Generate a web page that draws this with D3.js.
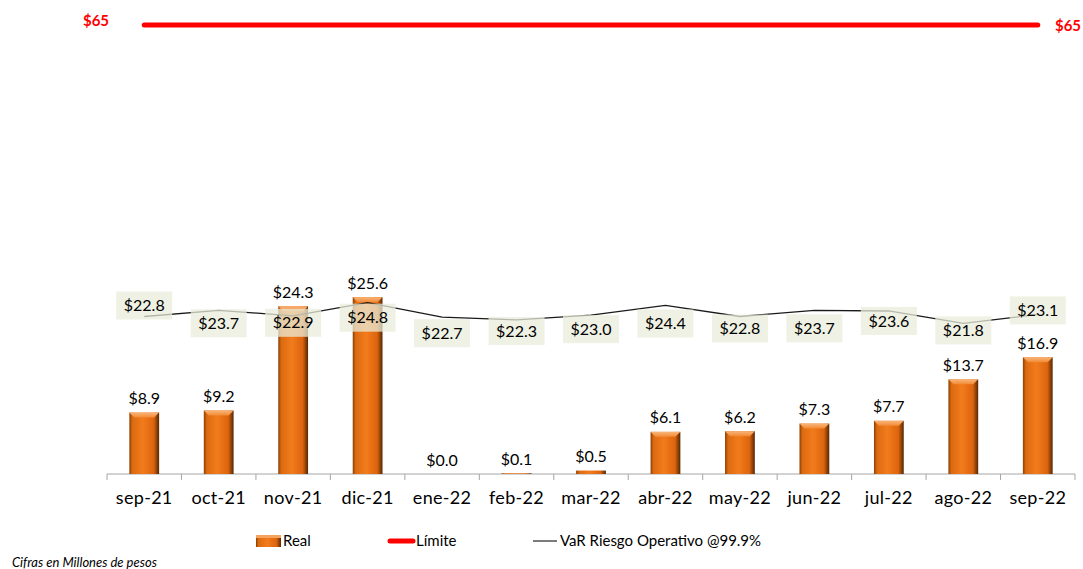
<!DOCTYPE html>
<html>
<head>
<meta charset="utf-8">
<script src="https://cdn.jsdelivr.net/npm/d3@7"></script>
<style>
  body { margin: 0; background: #fff; }
  svg { display: block; font-family: Lato, "Open Sans", sans-serif; }
</style>
</head>
<body>
<svg id="chart" width="1083" height="569"></svg>
<script>
// data (millones de pesos)
const MONTHS = ['sep-21', 'oct-21', 'nov-21', 'dic-21', 'ene-22', 'feb-22', 'mar-22',
    'abr-22', 'may-22', 'jun-22', 'jul-22', 'ago-22', 'sep-22'];
const REAL = [8.9, 9.2, 24.3, 25.6, 0.0, 0.1, 0.5, 6.1, 6.2, 7.3, 7.7, 13.7, 16.9];
const VAR_OP = [22.8, 23.7, 22.9, 24.8, 22.7, 22.3, 23.0, 24.4, 22.8, 23.7, 23.6, 21.8, 23.1];
const LIMITE = 65;

// manual label nudges for the VaR labels (px, relative to the line)
const VAR_LABEL_DY = [-11, 13, 7, 15, 16, 11, 14, 18, 12, 18, 10, 7, -4];

const SVG = d3.select('#chart');
const LEFT = 107, RIGHT = 1075, BASE = 474, TOP = 25;

const x = d3.scaleBand()
    .domain(MONTHS)
    .range([LEFT, RIGHT])
    .paddingInner(0.6)
    .paddingOuter(0.3);
const y = d3.scaleLinear()
    .domain([0, LIMITE])
    .range([BASE, TOP]);
const cx = m => x(m) + x.bandwidth() / 2;

// gradients for the bevelled bars
const defs = SVG.append('defs');
const barGrad = defs.append('linearGradient').attr('id', 'barGrad')
    .attr('x1', 0).attr('x2', 1).attr('y1', 0).attr('y2', 0);
[['0%', '#8a4004'], ['10%', '#dc6a10'], ['45%', '#f27c1c'], ['82%', '#dc640e'], ['100%', '#552702']]
    .forEach(s => barGrad.append('stop').attr('offset', s[0]).attr('stop-color', s[1]));
const capGrad = defs.append('linearGradient').attr('id', 'capGrad')
    .attr('x1', 0).attr('x2', 0).attr('y1', 0).attr('y2', 1);
[['0%', '#f8b57a'], ['100%', '#f28a34']]
    .forEach(s => capGrad.append('stop').attr('offset', s[0]).attr('stop-color', s[1]));

// x axis: line, boundary ticks and labels
SVG.append('line')
    .attr('x1', LEFT).attr('x2', RIGHT)
    .attr('y1', BASE).attr('y2', BASE)
    .style('stroke', '#a6a6a6');
SVG.append('g')
    .selectAll('line')
    .data(d3.range(MONTHS.length + 1))
    .join('line')
    .attr('x1', i => LEFT + i * x.step())
    .attr('x2', i => LEFT + i * x.step())
    .attr('y1', BASE).attr('y2', BASE + 6)
    .style('stroke', '#a6a6a6');

const xAxis = SVG.append('g')
    .attr('transform', `translate(0,${BASE})`)
    .call(d3.axisBottom(x).tickSize(0).tickPadding(17));
xAxis.select('.domain').remove();
xAxis.selectAll('text')
    .style('font-family', 'Lato, sans-serif')
    .style('font-size', '18px')
    .style('letter-spacing', '0.3px')
    .style('fill', '#000');

// bars
const bars = SVG.append('g').attr('id', 'bars');
bars.selectAll('rect')
    .data(REAL)
    .join('rect')
    .attr('x', (d, i) => x(MONTHS[i]))
    .attr('y', d => y(d))
    .attr('width', x.bandwidth())
    .attr('height', d => BASE - y(d))
    .style('fill', 'url(#barGrad)');
bars.selectAll('path')
    .data(REAL.map((d, i) => ({ v: d, m: MONTHS[i] })).filter(d => BASE - y(d.v) > 8))
    .join('path')
    .attr('d', d => {
        const x0 = x(d.m), x1 = x0 + x.bandwidth(), t = y(d.v), b = 5;
        return `M${x0},${t}L${x1},${t}L${x1 - b},${t + b}L${x0 + b},${t + b}Z`;
    })
    .style('fill', 'url(#capGrad)');

// bar value labels
SVG.append('g')
    .selectAll('text')
    .data(REAL)
    .join('text')
    .attr('x', (d, i) => cx(MONTHS[i]))
    .attr('y', d => y(d) - 14)
    .attr('dy', '0.35em')
    .attr('text-anchor', 'middle')
    .style('font-size', '16px')
    .style('fill', '#000')
    .text(d => '$' + d3.format('.1f')(d));

// limit line
SVG.append('line')
    .attr('x1', cx(MONTHS[0]))
    .attr('x2', cx(MONTHS[MONTHS.length - 1]))
    .attr('y1', y(LIMITE)).attr('y2', y(LIMITE))
    .style('stroke', '#ff0000')
    .style('stroke-width', 5)
    .style('stroke-linecap', 'round');
SVG.append('text')
    .attr('x', 96).attr('y', y(LIMITE) - 4)
    .attr('dy', '0.35em')
    .attr('text-anchor', 'middle')
    .style('font-size', '15px').style('font-weight', 'bold').style('fill', '#ff0000')
    .text('$' + LIMITE);
SVG.append('text')
    .attr('x', 1068).attr('y', y(LIMITE) + 1)
    .attr('dy', '0.35em')
    .attr('text-anchor', 'middle')
    .style('font-size', '15px').style('font-weight', 'bold').style('fill', '#ff0000')
    .text('$' + LIMITE);

// VaR line
SVG.append('path')
    .datum(VAR_OP)
    .attr('d', d3.line()
        .x((d, i) => cx(MONTHS[i]))
        .y(d => y(d)))
    .style('fill', 'none')
    .style('stroke', '#1a1a1a')
    .style('stroke-width', 1.3);

// VaR labels with translucent boxes
const varLabels = SVG.append('g')
    .selectAll('g')
    .data(VAR_OP)
    .join('g')
    .attr('transform', (d, i) => `translate(${cx(MONTHS[i])},${y(d) + VAR_LABEL_DY[i]})`);
varLabels.append('rect')
    .attr('x', -28).attr('y', -14)
    .attr('width', 56).attr('height', 28)
    .style('fill', '#e8ecda')
    .style('fill-opacity', 0.75);
varLabels.append('text')
    .attr('text-anchor', 'middle')
    .attr('dy', '0.35em')
    .style('font-size', '16px')
    .style('fill', '#000')
    .text(d => '$' + d3.format('.1f')(d));

// legend
const legend = SVG.append('g').attr('transform', 'translate(0,541)');
legend.append('rect')
    .attr('x', 256).attr('y', -6).attr('width', 25).attr('height', 12)
    .style('fill', 'url(#barGrad)');
legend.append('rect')
    .attr('x', 256).attr('y', -6).attr('width', 25).attr('height', 3)
    .style('fill', '#f6a35e');
legend.append('line')
    .attr('x1', 390).attr('x2', 413).attr('y1', 0).attr('y2', 0)
    .style('stroke', '#ff0000').style('stroke-width', 5).style('stroke-linecap', 'round');
legend.append('line')
    .attr('x1', 533).attr('x2', 557).attr('y1', 0).attr('y2', 0)
    .style('stroke', '#333').style('stroke-width', 1.3);
legend.selectAll('text')
    .data([['Real', 283], ['Límite', 416], ['VaR Riesgo Operativo @99.9%', 560]])
    .join('text')
    .attr('x', d => d[1])
    .attr('dy', '0.35em')
    .style('font-size', '15px')
    .style('fill', '#000')
    .text(d => d[0]);

// footnote
SVG.append('text')
    .attr('x', 12).attr('y', 567)
    .style('font-size', '13px')
    .style('font-style', 'italic')
    .style('fill', '#000')
    .text('Cifras en Millones de pesos');
</script>
</body>
</html>
